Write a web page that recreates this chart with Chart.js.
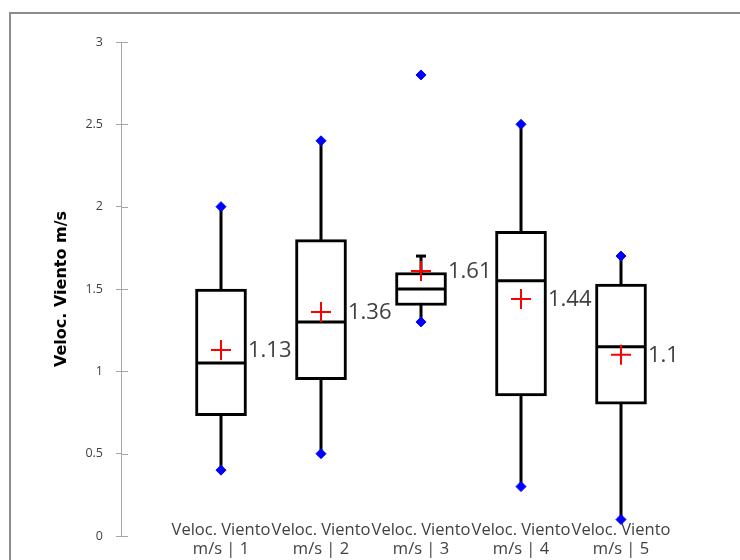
<!DOCTYPE html>
<html lang="es">
<head>
<meta charset="UTF-8">
<title>Veloc. Viento m/s</title>
<script src="https://cdn.jsdelivr.net/npm/chart.js"></script>
    <style>
        * {
        margin: 0;
        padding: 0;
        box-sizing: border-box;
        }

        body {
        background-color: #fff;
        width: 740px;
        height: 560px;
        overflow: hidden;
        position: relative;
        }

        .frame {
        position: absolute;
        left: 9px;
        top: 12px;
        width: 800px;
        height: 640px;
        border: 2px solid #8c8c8c;
        }

        canvas {
        position: absolute;
        left: 0;
        top: 0;
        }
    </style>
</head>
<body>
    <div class="frame"></div>
    <canvas id="chart" width="740" height="560"></canvas>

    <script>
        // datos
        const categories = [
            ['Veloc. Viento', 'm/s | 1'],
            ['Veloc. Viento', 'm/s | 2'],
            ['Veloc. Viento', 'm/s | 3'],
            ['Veloc. Viento', 'm/s | 4'],
            ['Veloc. Viento', 'm/s | 5']
        ];
        const minVals = [0.4, 0.5, 1.3, 0.3, 0.1];
        const q1Vals = [0.73, 0.95, 1.4, 0.85, 0.8];
        const medianVals = [1.05, 1.3, 1.5, 1.55, 1.15];
        const q3Vals = [1.5, 1.8, 1.6, 1.85, 1.53];
        const whiskerHigh = [2.0, 2.4, 1.7, 2.5, 1.7];
        const maxVals = [2.0, 2.4, 2.8, 2.5, 1.7];
        const meanVals = [1.13, 1.36, 1.61, 1.44, 1.1];
        const yTicks = [0, 0.5, 1, 1.5, 2, 2.5, 3];

        const pos = categories.map((c, i) => i + 1);

        // bigotes: una linea con huecos entre cajas
        let whiskerData = [];
        pos.forEach((x, i) => {
            whiskerData.push({x: x, y: minVals[i]});
            whiskerData.push({x: x, y: whiskerHigh[i]});
            whiskerData.push({x: x, y: null});
        });

        // puntos azules: minimos y maximos
        let extremeData = [];
        pos.forEach((x, i) => {
            extremeData.push({x: x, y: minVals[i]});
            extremeData.push({x: x, y: maxVals[i]});
        });

        // tope del bigote que no termina en un punto
        let capData = [];
        pos.forEach((x, i) => {
            if (whiskerHigh[i] < maxVals[i]) capData.push({x: x, y: whiskerHigh[i]});
        });

        function noMargins(axis) {
            axis.paddingLeft = 0;
            axis.paddingRight = 0;
            axis.paddingTop = 0;
            axis.paddingBottom = 0;
        }

        const meanLabels = {
            id: 'meanLabels',
            afterDatasetsDraw(chart) {
                const ctx = chart.ctx;
                const xs = chart.scales.x;
                const ys = chart.scales.y;
                ctx.save();
                ctx.font = '22px "Open Sans"';
                ctx.fillStyle = '#404040';
                ctx.textAlign = 'left';
                ctx.textBaseline = 'middle';
                meanVals.forEach((m, i) => {
                    ctx.fillText(String(m), xs.getPixelForValue(pos[i]) + 27, ys.getPixelForValue(m) + 1);
                });
                ctx.restore();
            },
            afterDraw(chart) {
                // marcas del eje hacia dentro
                const ctx = chart.ctx;
                const ys = chart.scales.y;
                ctx.save();
                ctx.strokeStyle = '#a6a6a6';
                ctx.lineWidth = 1;
                ys.ticks.forEach(t => {
                    const py = Math.round(ys.getPixelForValue(t.value)) + 0.5;
                    ctx.beginPath();
                    ctx.moveTo(ys.right, py);
                    ctx.lineTo(ys.right + 7, py);
                    ctx.stroke();
                });
                ctx.restore();
            }
        };

        const ctx = document.getElementById('chart').getContext('2d');
        const chart = new Chart(ctx, {
            data: {
                datasets: [
                    {
                        type: 'line',
                        data: whiskerData,
                        borderColor: '#000',
                        borderWidth: 3,
                        pointRadius: 0,
                        spanGaps: false,
                        order: 5
                    },
                    {
                        type: 'bar',
                        data: pos.map((x, i) => ({x: x, y: [q1Vals[i], q3Vals[i]]})),
                        backgroundColor: '#fff',
                        borderColor: '#000',
                        borderWidth: 3,
                        borderSkipped: false,
                        barThickness: 51,
                        order: 4
                    },
                    {
                        type: 'scatter',
                        data: pos.map((x, i) => ({x: x, y: medianVals[i]})),
                        pointStyle: 'line',
                        pointRadius: 25,
                        borderColor: '#000',
                        borderWidth: 3,
                        order: 3
                    },
                    {
                        type: 'scatter',
                        data: capData,
                        pointStyle: 'line',
                        pointRadius: 5,
                        borderColor: '#000',
                        borderWidth: 3,
                        order: 3
                    },
                    {
                        type: 'scatter',
                        data: extremeData,
                        pointStyle: 'rectRot',
                        pointRadius: 5,
                        backgroundColor: '#0000ff',
                        borderColor: '#0000ff',
                        borderWidth: 1,
                        order: 2
                    },
                    {
                        type: 'scatter',
                        data: pos.map((x, i) => ({x: x, y: meanVals[i]})),
                        pointStyle: 'cross',
                        pointRadius: 10,
                        borderColor: '#ff0000',
                        borderWidth: 2,
                        order: 1
                    }
                ]
            },
            options: {
                responsive: false,
                animation: false,
                devicePixelRatio: 1,
                layout: {
                    autoPadding: false,
                    padding: {top: 42, right: 19, left: 0, bottom: 0}
                },
                plugins: {
                    legend: {display: false},
                    tooltip: {enabled: false}
                },
                scales: {
                    x: {
                        type: 'linear',
                        min: 0,
                        max: 6,
                        offset: false,
                        afterBuildTicks: (axis) => {
                            axis.ticks = pos.map(v => ({value: v}));
                        },
                        afterFit: (axis) => {
                            axis.height = 24;
                            noMargins(axis);
                        },
                        grid: {display: false, drawTicks: false},
                        border: {display: false},
                        ticks: {
                            autoSkip: false,
                            maxRotation: 0,
                            minRotation: 0,
                            mirror: true,
                            padding: -4,
                            color: '#404040',
                            font: {family: 'Open Sans', size: 16.5, lineHeight: 1.15},
                            callback: (v) => categories[v - 1]
                        }
                    },
                    y: {
                        min: 0,
                        max: 3,
                        afterBuildTicks: (axis) => {
                            axis.ticks = yTicks.map(v => ({value: v}));
                        },
                        afterFit: (axis) => {
                            axis.width = 121;
                            noMargins(axis);
                        },
                        grid: {
                            drawOnChartArea: false,
                            drawTicks: true,
                            tickLength: 5,
                            tickColor: '#a6a6a6'
                        },
                        border: {display: true, color: '#a6a6a6', width: 1},
                        ticks: {
                            padding: 13,
                            color: '#404040',
                            font: {family: 'Open Sans', size: 12.5},
                            callback: (v) => String(v)
                        },
                        title: {
                            display: true,
                            text: 'Veloc. Viento m/s',
                            color: '#000',
                            font: {family: 'DejaVu Sans', size: 16, weight: 'bold'},
                            padding: {top: 52, bottom: 0}
                        }
                    }
                }
            },
            plugins: [meanLabels]
        });
    </script>
</body>
</html>
